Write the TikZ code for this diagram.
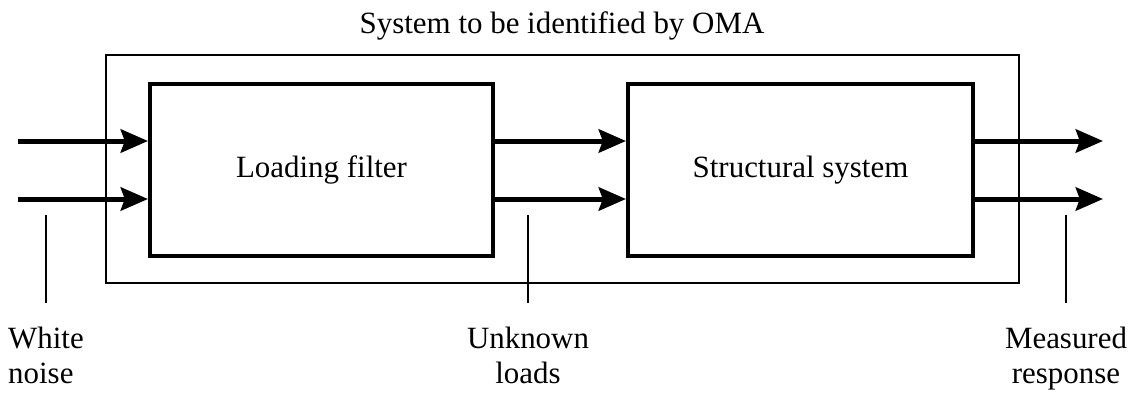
\documentclass[tikz,border=0pt]{standalone}
\usepackage{fontspec}
\setmainfont{Liberation Serif}
\usepackage{tikz}
\usetikzlibrary{positioning, arrows.meta}

\begin{document}
\begin{tikzpicture}[
  font=\fontsize{22}{24.5}\selectfont,
  blk/.style={rectangle, draw=black, line width=0.1cm,
              minimum height=4.3cm, align=center},
  sysbox/.style={rectangle, draw=black, line width=0.055cm,
                 minimum width=22.825cm, minimum height=5.7cm},
  arr/.style={-{Stealth[length=0.68cm, width=0.58cm, inset=0.1cm]},
              line width=0.125cm, draw=black},
  ptr/.style={draw=black, line width=0.05cm},
  lbl/.style={anchor=north, inner xsep=0pt, inner ysep=0.6cm}
]
\useasboundingbox (0,0) rectangle (28.4,9.8);

% outer system and title
\node[sysbox] (sys) at (14.0625,5.575) {};
\node[anchor=base] (title) at (14.05,8.975) {System to be identified by OMA};

% blocks
\node[blk, minimum width=8.575cm] (filter) at (8.0375,5.55) {Loading filter};
\node[blk, minimum width=8.625cm] (struct) at (20.0125,5.55) {Structural system};

% input, inner and output signals
\coordinate (inA)  at (0.45,6.275);
\coordinate (inB)  at (0.45,4.825);
\coordinate (outA) at (27.575,6.275);
\coordinate (outB) at (27.575,4.825);

\draw[arr] (inA) -- (inA -| filter.west);
\draw[arr] (inB) -- (inB -| filter.west);
\draw[arr] (inA -| filter.east) -- (inA -| struct.west);
\draw[arr] (inB -| filter.east) -- (inB -| struct.west);
\draw[arr] (inA -| struct.east) -- (outA);
\draw[arr] (inB -| struct.east) -- (outB);

% pointer labels
\coordinate (noiseTop)   at (1.15,4.425);
\coordinate (loadsTop)   at (13.2,4.425);
\coordinate (measTop)    at (26.65,4.425);

\node[lbl, align=left]   (noise) at (1.15,2.225)  {White\\noise};
\node[lbl, align=center] (loads) at (13.2,2.225)  {Unknown\\loads};
\node[lbl, align=center] (meas)  at (26.65,2.225) {Measured\\response};

\draw[ptr] (noiseTop) -- (noise.north);
\draw[ptr] (loadsTop) -- (loads.north);
\draw[ptr] (measTop)  -- (meas.north);

\end{tikzpicture}
\end{document}
